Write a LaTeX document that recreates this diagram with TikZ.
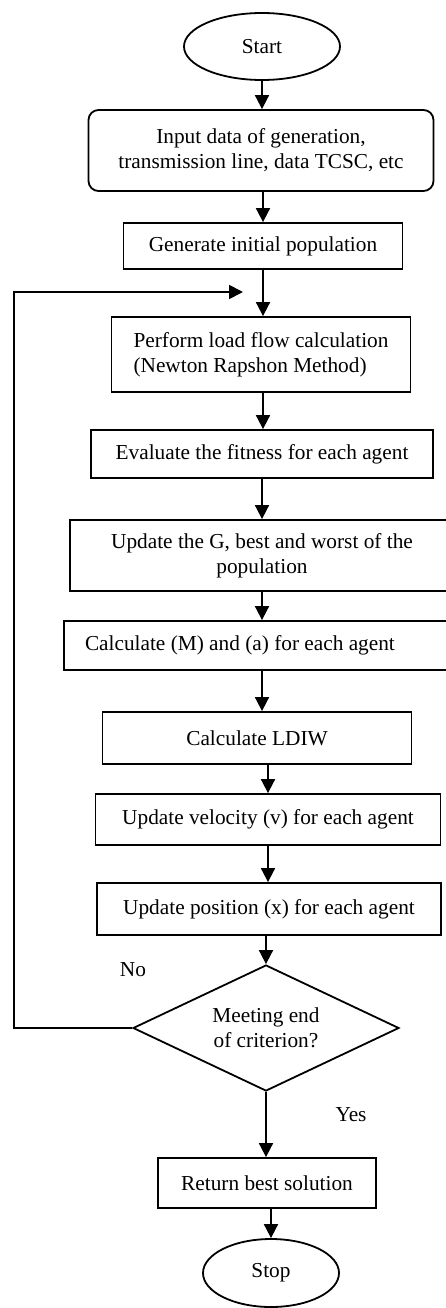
\documentclass[tikz,border=0pt]{standalone}
\usepackage{fontspec}
\setmainfont{Liberation Serif}
\usetikzlibrary{arrows.meta,shapes.geometric}

\begin{document}
\begin{tikzpicture}[x=1pt,y=1pt,yscale=-1,line width=1.8pt,
  every node/.style={font=\fontsize{21.3}{25}\selectfont},
  box/.style={draw,rectangle,inner sep=0pt},
  term/.style={draw,ellipse,inner sep=0pt},
  arr/.style={-{Triangle[width=14pt,length=14pt]}}]
\useasboundingbox (0,0) rectangle (446,1308);
\node [term,minimum width=156pt,minimum height=67pt] (start) at (262,46.5) {Start};
\node [box,rounded corners=10pt,minimum width=345pt,minimum height=81pt,align=center] (input) at (261,150.5) {Input data of generation,\\ transmission line, data TCSC, etc};
\node [box,minimum width=279pt,minimum height=46pt] (gen) at (263,246) {Generate initial population};
\node [box,minimum width=299pt,minimum height=75pt,align=left] (flow) at (261,354.5) {Perform load flow calculation\\(Newton Rapshon Method)};
\node [box,minimum width=342pt,minimum height=48pt] (fit) at (262,454) {Evaluate the fitness for each agent};
\node [box,minimum width=384pt,minimum height=71pt,align=center] (best) at (262,555.5) {Update the G, best and worst of the\\population};
\node [box,text width=364pt,inner xsep=21pt,minimum height=49pt,align=flush left] (mass) at (267,645.5) {Calculate (M) and (a) for each agent};
\node [box,minimum width=309pt,minimum height=52pt] (ldiw) at (257,738) {Calculate LDIW};
\node [box,minimum width=345pt,minimum height=51pt] (vel) at (268,819.5) {Update velocity (v) for each agent};
\node [box,minimum width=344pt,minimum height=52pt] (pos) at (269,909) {Update position (x) for each agent};
\node [diamond,draw,aspect=2.1,minimum width=266pt,minimum height=126pt,inner sep=0pt,align=center] (crit) at (266,1028) {Meeting end\\of criterion?};
\node [box,minimum width=218pt,minimum height=50pt] (ret) at (267,1183) {Return best solution};
\node [term,minimum width=136pt,minimum height=68pt] (stop) at (271,1273) {Stop};
\node (no) at (133,970) {No};
\node (yes) at (351,1115) {Yes};
\coordinate (back) at (243,292);
% main flow
\draw [arr] (start) -- (start |- input.north);
\draw [arr] (input.south -| gen.north) -- (gen.north);
\draw [arr] (gen) -- (gen |- flow.north);
\draw [arr] (flow.south -| gen.north) -- (gen |- fit.north);
\draw [arr] (fit) -- (fit |- best.north);
\draw [arr] (best) -- (best |- mass.north);
\draw [arr] (mass.south -| best.north) -- (best |- ldiw.north);
\draw [arr] (ldiw.south -| vel.north) -- (vel.north);
\draw [arr] (vel) -- (vel |- pos.north);
\draw [arr] (pos.south -| crit.north) -- (crit.north);
\draw [arr] (crit) -- (crit |- ret.north);
\draw [arr] (ret.south -| stop.north) -- (stop.north);
% loop back
\draw [arr] (crit.west) -- ++(-118,0) |- (back);
\end{tikzpicture}
\end{document}
